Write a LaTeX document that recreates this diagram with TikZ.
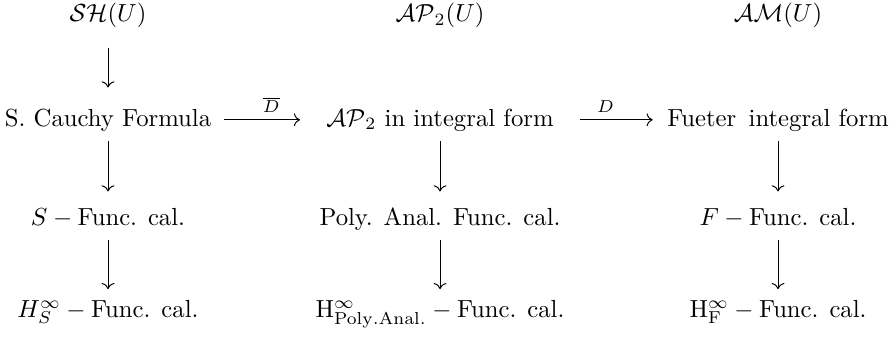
\documentclass[tikz,border=0pt]{standalone}
\usepackage{xcolor}
\usepackage{tikz}
\usetikzlibrary{arrows.meta,positioning,calc}
\usepackage{amsmath,mathtools,bm}

\begin{document}
\begin{tikzpicture}[
		term/.style={anchor=base, inner sep=0pt, text height=7.5pt, text depth=2.5pt},
		arr/.style={-{To}, thin, shorten <=3.4pt, shorten >=3.6pt},
		lbl/.style={above, inner sep=2.6pt, font=\scriptsize}
		]
		\useasboundingbox (0,0) rectangle (12.72,-4.795);
		% top row
		\node[term] (sh) at (1.537,-0.313) {$\mathcal{SH}(U)$};
		\node[term] (ap) at (6.261,-0.313) {$\mathcal{AP}_2(U)$};
		\node[term] (am) at (11.07,-0.313) {$\mathcal{AM}(U)$};
		% integral forms
		\node[term] (cauchy) at (1.537,-1.793) {S. Cauchy Formula};
		\node[term] (apint) at (6.261,-1.793) {$\mathcal{AP}_2$ in integral form};
		\node[term] (fueter) at (11.07,-1.793) {Fueter\hspace{5pt}integral form};
		% functional calculi
		\node[term] (sfc) at (1.537,-3.202) {$S-\text{Func. cal.}$};
		\node[term] (pafc) at (6.261,-3.202) {Poly. Anal. Func. cal.};
		\node[term] (ffc) at (11.07,-3.202) {$F-\text{Func. cal.}$};
		% H infinity
		\node[term] (hs) at (1.537,-4.511) {$H^\infty_S-\text{Func. cal.}$};
		\node[term] (hpa) at (6.261,-4.511) {$\mathrm{H}^\infty_{\mathrm{Poly.Anal.}}-\text{Func. cal.}$};
		\node[term] (hf) at (11.07,-4.511) {$\mathrm{H}^\infty_{\mathrm{F}}-\text{Func. cal.}$};
		\draw[arr, shorten <=7.7pt, shorten >=7.9pt] (sh) -- (cauchy);
		\draw[arr, shorten >=5.9pt] (cauchy) -- (sfc);
		\draw[arr] (sfc) -- (hs);
		\draw[arr, shorten >=5.9pt] (apint) -- (pafc);
		\draw[arr] (pafc) -- (hpa);
		\draw[arr, shorten >=5.9pt] (fueter) -- (ffc);
		\draw[arr] (ffc) -- (hf);
		\draw[arr, shorten <=4.9pt, shorten >=10.5pt] (cauchy) -- node[lbl, xshift=1pt] {$\overline{D}$} (apint);
		\draw[arr, shorten <=10.5pt, shorten >=5.7pt] (apint) -- node[lbl, xshift=-2pt] {$D$} (fueter);
\end{tikzpicture}
\end{document}
